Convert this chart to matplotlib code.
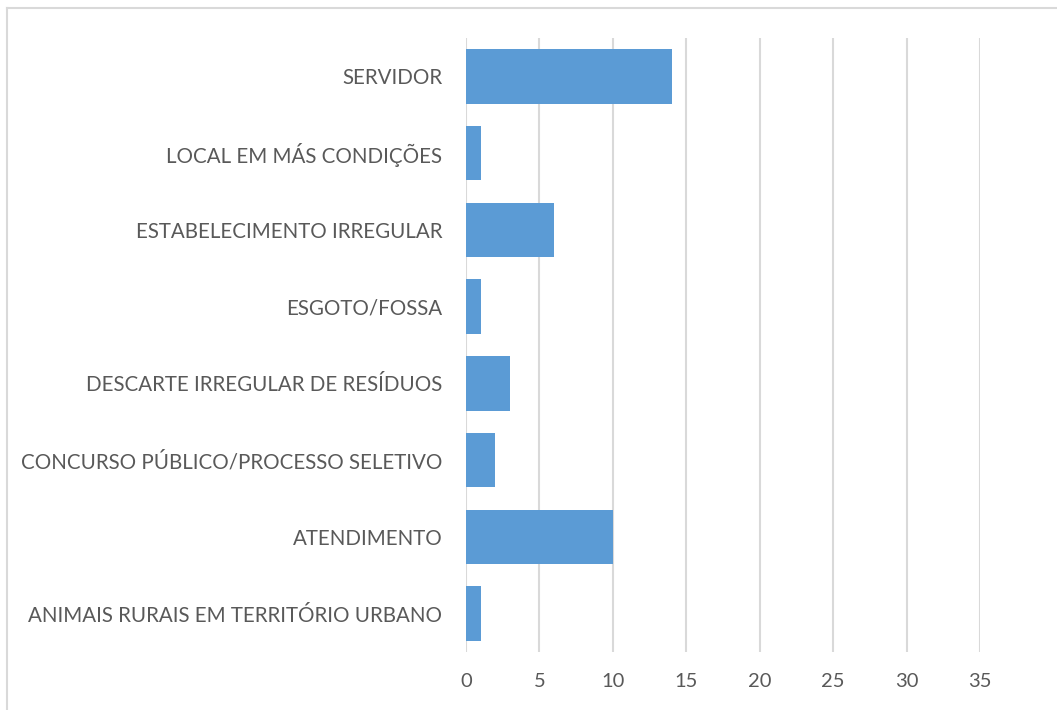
import matplotlib
matplotlib.use("Agg")
import matplotlib.pyplot as plt
from matplotlib.lines import Line2D

# Categories listed bottom to top
categories = [
    "ANIMAIS RURAIS EM TERRITÓRIO URBANO",
    "ATENDIMENTO",
    "CONCURSO PÚBLICO/PROCESSO SELETIVO",
    "DESCARTE IRREGULAR DE RESÍDUOS",
    "ESGOTO/FOSSA",
    "ESTABELECIMENTO IRREGULAR",
    "LOCAL EM MÁS CONDIÇÕES",
    "SERVIDOR",
]
counts = [1, 10, 2, 3, 1, 6, 1, 14]
x_ticks = [0, 5, 10, 15, 20, 25, 30, 35]

W, H = 1057, 710
fig = plt.figure(figsize=(W / 100, H / 100), dpi=100)
fig.patch.set_facecolor("white")

left, right, top, bottom = 466, 980, 38, 652
ax = fig.add_axes([left / W, 1 - bottom / H, (right - left) / W, (bottom - top) / H])

text_color = "#595959"
grid_color = "#D9D9D9"
font = ["Lato", "DejaVu Sans"]

ax.barh(range(len(categories)), counts, height=0.71, color="#5B9BD5", zorder=3)

ax.set_xlim(0, 35)
ax.set_ylim(-0.5, len(categories) - 0.5)
ax.set_xticks(x_ticks)
ax.set_xticklabels([str(t) for t in x_ticks], family=font, fontsize=14.5, color=text_color)
ax.set_yticks(range(len(categories)))
ax.set_yticklabels(categories, family=font, fontsize=14.8, color=text_color)
ax.tick_params(axis="both", length=0)
ax.tick_params(axis="y", pad=17)
ax.tick_params(axis="x", pad=15)
for lbl in ax.get_yticklabels():
    lbl.set_y(lbl.get_position()[1])
    lbl.set_verticalalignment("center_baseline")

ax.grid(axis="x", color=grid_color, linewidth=1.5, zorder=0)
for s in ax.spines.values():
    s.set_visible(False)

# Chart frame (top and left edges)
fig.add_artist(Line2D([7 / W, 1], [1 - 8 / H, 1 - 8 / H], color=grid_color, linewidth=1.5,
                      transform=fig.transFigure))
fig.add_artist(Line2D([7 / W, 7 / W], [0, 1 - 8 / H], color=grid_color, linewidth=1.5,
                      transform=fig.transFigure))

fig.savefig("out.png", dpi=100, facecolor="white")
